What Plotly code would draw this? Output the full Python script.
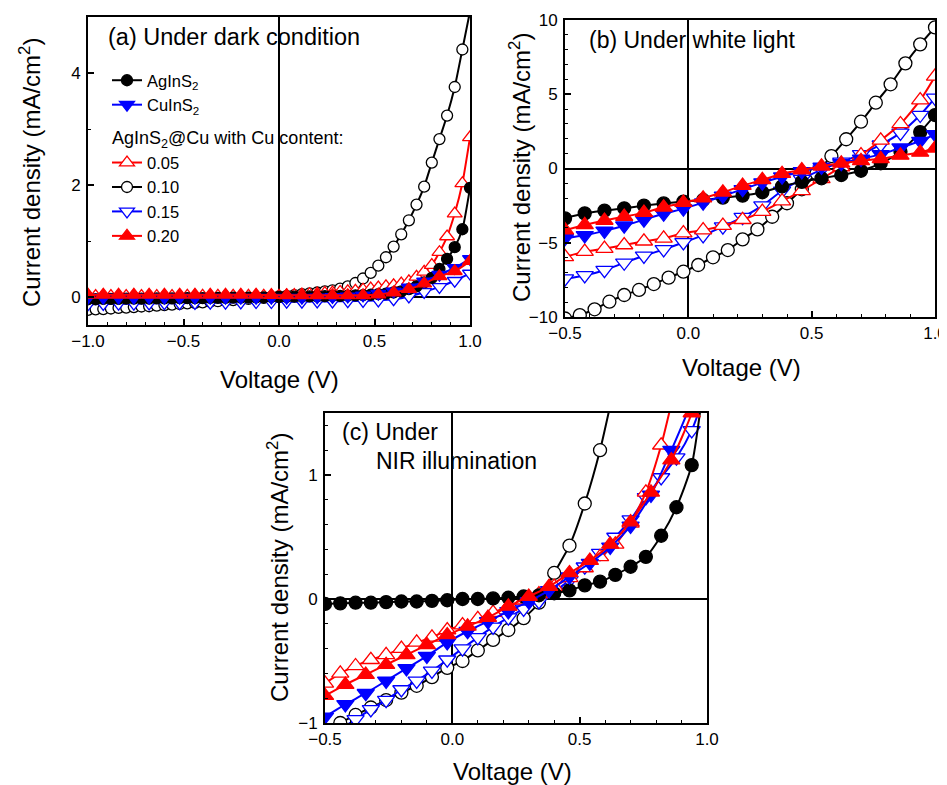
import plotly.graph_objects as go

# page body has an 8px margin; figure is sized so the page fills the 947x785 window
PAGE_W, PAGE_H = 947, 785
OFF = 8
W, H = PAGE_W - OFF, PAGE_H - OFF

# ---------------- data ----------------
# Panel (a): dark
Va_fine = [-1.00, -0.96, -0.92, -0.88, -0.84, -0.80, -0.76, -0.72, -0.68, -0.64, -0.60,
           -0.56, -0.52, -0.48, -0.44, -0.40, -0.36, -0.32, -0.28, -0.24, -0.20, -0.16,
           -0.12, -0.08, -0.04, 0.00, 0.04, 0.08, 0.12, 0.16, 0.20, 0.24, 0.28, 0.32,
           0.36, 0.40, 0.44, 0.48, 0.52, 0.56, 0.60, 0.64, 0.68, 0.72, 0.76, 0.80, 0.84,
           0.88, 0.92, 0.96, 1.00]
Va_coarse = [-1.00, -0.92, -0.84, -0.76, -0.68, -0.60, -0.52, -0.44, -0.36, -0.28, -0.20,
             -0.12, -0.04, 0.04, 0.12, 0.20, 0.28, 0.36, 0.44, 0.52, 0.60, 0.68, 0.76,
             0.84, 0.92, 1.00]

a_AgInS2 = [-0.04, -0.04, -0.035, -0.035, -0.035, -0.03, -0.03, -0.03, -0.03, -0.025, -0.025,
            -0.025, -0.02, -0.02, -0.02, -0.02, -0.015, -0.015, -0.015, -0.01, -0.01, -0.01,
            -0.005, -0.005, 0.0, 0.0, 0.0, 0.005, 0.005, 0.01, 0.01, 0.015, 0.02, 0.02,
            0.025, 0.03, 0.035, 0.04, 0.05, 0.06, 0.08, 0.10, 0.14, 0.19, 0.26, 0.34, 0.50,
            0.68, 0.89, 1.21, 1.95]
a_c005 = [0.015, 0.015, 0.015, 0.015, 0.015, 0.015, 0.015, 0.015, 0.015, 0.015, 0.015,
          0.015, 0.015, 0.02, 0.02, 0.02, 0.02, 0.02, 0.02, 0.02, 0.02, 0.02,
          0.02, 0.02, 0.02, 0.02, 0.03, 0.035, 0.045, 0.05, 0.06, 0.07, 0.08, 0.09,
          0.10, 0.11, 0.13, 0.15, 0.17, 0.19, 0.21, 0.24, 0.28, 0.36, 0.45, 0.57, 0.80,
          1.08, 1.49, 2.03, 2.85]
a_c010 = [-0.23, -0.22, -0.215, -0.205, -0.195, -0.19, -0.18, -0.17, -0.165, -0.155, -0.145,
          -0.135, -0.125, -0.115, -0.105, -0.095, -0.085, -0.075, -0.065, -0.055, -0.045, -0.035,
          -0.025, -0.015, -0.005, 0.01, 0.02, 0.035, 0.05, 0.065, 0.08, 0.10, 0.12, 0.15,
          0.19, 0.25, 0.33, 0.43, 0.56, 0.71, 0.90, 1.12, 1.37, 1.65, 1.97, 2.40, 2.82,
          3.24, 3.75, 4.42, 5.10]
a_CuInS2 = [-0.01, -0.01, -0.01, -0.01, -0.01, -0.01, -0.01, -0.01, -0.01, -0.01, -0.01,
            -0.01, -0.01, -0.01, -0.01, -0.005, 0.0, 0.01, 0.03, 0.06, 0.10, 0.17, 0.28,
            0.40, 0.52, 0.68]
a_c015 = [-0.13, -0.125, -0.12, -0.12, -0.115, -0.11, -0.11, -0.105, -0.10, -0.10, -0.095,
          -0.09, -0.09, -0.085, -0.085, -0.08, -0.08, -0.075, -0.07, -0.06, -0.04, 0.01, 0.09,
          0.18, 0.29, 0.42]
a_c020 = [0.04, 0.04, 0.04, 0.04, 0.04, 0.04, 0.04, 0.04, 0.04, 0.04, 0.04,
          0.04, 0.035, 0.03, 0.03, 0.03, 0.03, 0.03, 0.03, 0.045, 0.08, 0.14, 0.24,
          0.37, 0.46, 0.64]

# Panels (b) and (c): voltage grids
V6 = [-0.50, -0.44, -0.38, -0.32, -0.26, -0.20, -0.14, -0.08, -0.02, 0.04, 0.10, 0.16, 0.22,
      0.28, 0.34, 0.40, 0.46, 0.52, 0.58, 0.64, 0.70, 0.76, 0.82, 0.88, 0.94, 1.00]
V8 = [-0.50, -0.42, -0.34, -0.26, -0.18, -0.10, -0.02, 0.06, 0.14, 0.22, 0.30, 0.38, 0.46,
      0.54, 0.62, 0.70, 0.78, 0.86, 0.94, 1.00]

# Panel (b): white light
b_AgInS2 = [-3.36, -3.02, -2.84, -2.68, -2.50, -2.35, -2.23, -2.12, -1.96, -1.83, -1.60, -1.20,
            -0.90, -0.66, -0.44, -0.15, 0.35, 1.13, 2.45, 3.60]
b_CuInS2 = [-4.70, -4.50, -4.20, -3.85, -3.45, -3.05, -2.70, -2.30, -1.85, -1.40, -0.95, -0.55,
            -0.20, 0.10, 0.35, 0.65, 0.95, 1.40, 1.85, 2.30]
b_c005 = [-5.95, -5.60, -5.40, -5.15, -4.90, -4.70, -4.35, -4.15, -3.85, -3.45, -2.90, -2.20,
          -1.50, -0.70, 0.10, 0.90, 1.90, 3.00, 4.60, 6.20]
b_c010 = [-10.1, -9.87, -9.48, -8.97, -8.52, -8.18, -7.78, -7.35, -6.95, -6.50, -5.98, -5.49,
          -4.77, -4.10, -3.25, -2.34, -1.40, -0.32, 0.84, 1.97, 3.15, 4.43, 5.67, 7.08, 8.36, 9.50]
b_c015 = [-7.42, -7.20, -6.85, -6.35, -5.88, -5.45, -4.98, -4.50, -3.92, -3.28, -2.50, -1.50,
          -0.72, -0.08, 0.45, 0.95, 1.60, 2.40, 3.60, 4.75]
b_c020 = [-4.15, -3.80, -3.50, -3.24, -2.97, -2.61, -2.30, -2.00, -1.60, -1.15, -0.77, -0.35,
          -0.10, 0.15, 0.35, 0.52, 0.65, 0.88, 1.08, 1.36]

# Panel (c): NIR illumination
c_AgInS2 = [-0.04, -0.035, -0.03, -0.03, -0.025, -0.02, -0.02, -0.015, -0.01, 0.0, 0.0, 0.005,
            0.01, 0.02, 0.03, 0.046, 0.07, 0.11, 0.14, 0.195, 0.26, 0.34, 0.51, 0.74, 1.08, 1.95]
c_CuInS2 = [-0.95, -0.85, -0.76, -0.66, -0.56, -0.46, -0.35, -0.26, -0.18, -0.10, -0.02, 0.07,
            0.18, 0.29, 0.42, 0.59, 0.84, 1.20, 1.60, 2.20]
c_c005 = [-0.68, -0.60, -0.54, -0.49, -0.45, -0.40, -0.35, -0.31, -0.25, -0.21, -0.16, -0.11,
          -0.06, -0.01, 0.04, 0.10, 0.17, 0.25, 0.34, 0.44, 0.61, 0.86, 1.24, 1.75]
c_c010 = [-1.06, -1.00, -0.935, -0.875, -0.815, -0.755, -0.70, -0.63, -0.555, -0.50, -0.415,
          -0.33, -0.25, -0.155, -0.03, 0.21, 0.43, 0.77, 1.20, 1.75]
c_c015 = [-1.12, -1.05, -0.97, -0.89, -0.815, -0.73, -0.66, -0.58, -0.49, -0.40, -0.31, -0.225,
          -0.15, -0.08, -0.02, 0.06, 0.15, 0.26, 0.37, 0.50, 0.64, 0.82, 0.98, 1.14, 1.36, 1.70]
c_c020 = [-0.78, -0.69, -0.61, -0.53, -0.45, -0.37, -0.29, -0.22, -0.15, -0.06, 0.02, 0.10,
          0.21, 0.31, 0.44, 0.62, 0.86, 1.12, 1.50, 2.00]

names = {
    "AgInS2": "AgInS<sub>2</sub>",
    "CuInS2": "CuInS<sub>2</sub>",
    "c005": "0.05",
    "c010": "0.10",
    "c015": "0.15",
    "c020": "0.20",
}

# ---------------- styles ----------------
BLUE = "#0000ff"
RED = "#ff0000"
styles = {
    "AgInS2": dict(color="black", symbol="circle", fill="black", circ=True),
    "CuInS2": dict(color=BLUE, symbol="triangle-down", fill=BLUE, circ=False),
    "c005": dict(color=RED, symbol="triangle-up", fill="white", circ=False),
    "c010": dict(color="black", symbol="circle", fill="white", circ=True),
    "c015": dict(color=BLUE, symbol="triangle-down", fill="white", circ=False),
    "c020": dict(color=RED, symbol="triangle-up", fill=RED, circ=False),
}
marker_size = {"a": (11, 13), "b": (13, 15), "c": (13, 15)}  # (circle, triangle)
legend_rank = {"AgInS2": 1, "CuInS2": 2, "c005": 3, "c010": 4, "c015": 5, "c020": 6}
draw_order = ["c010", "c015", "c005", "AgInS2", "CuInS2", "c020"]

panel_data = {
    "a": {
        "AgInS2": (Va_fine, a_AgInS2), "c005": (Va_fine, a_c005), "c010": (Va_fine, a_c010),
        "CuInS2": (Va_coarse, a_CuInS2), "c015": (Va_coarse, a_c015), "c020": (Va_coarse, a_c020),
    },
    "b": {
        "AgInS2": (V8, b_AgInS2), "CuInS2": (V8, b_CuInS2), "c005": (V8, b_c005),
        "c010": (V6, b_c010), "c015": (V8, b_c015), "c020": (V8, b_c020),
    },
    "c": {
        "AgInS2": (V6, c_AgInS2), "CuInS2": (V8, c_CuInS2), "c005": (V6[:len(c_c005)], c_c005),
        "c010": (V6[:len(c_c010)], c_c010), "c015": (V6, c_c015), "c020": (V8, c_c020),
    },
}
axes_ref = {"a": ("x", "y"), "b": ("x2", "y2"), "c": ("x3", "y3")}

FONT = "Arial, Liberation Sans, sans-serif"

fig = go.Figure()
for p in ["a", "b", "c"]:
    xr, yr = axes_ref[p]
    for key in draw_order:
        xs, ys = panel_data[p][key]
        st = styles[key]
        size = marker_size[p][0] if st["circ"] else marker_size[p][1]
        show = (p == "a")
        grp = "g1" if key in ("AgInS2", "CuInS2") else "g2"
        kw = {}
        if show and grp == "g2":
            kw["legendgrouptitle"] = dict(text="AgInS<sub>2</sub>@Cu with Cu content:",
                                          font=dict(size=18, family=FONT, color="black"))
        fig.add_trace(go.Scatter(
            x=xs, y=ys, xaxis=xr, yaxis=yr, mode="lines+markers",
            name=names[key], showlegend=show, legendgroup=grp if show else None,
            legendrank=legend_rank[key],
            line=dict(color=st["color"], width=2, shape="spline", smoothing=0.6),
            marker=dict(symbol=st["symbol"], size=size, color=st["fill"],
                        line=dict(color=st["color"], width=1.3)),
            **kw,
        ))

def px_x(x):
    return (x - OFF) / W

def px_y(y):
    return 1 - (y - OFF) / H

def axis_common():
    return dict(
        showline=True, linewidth=2, linecolor="black", mirror=True,
        ticks="inside", ticklen=6, tickwidth=1.5, tickcolor="black",
        showgrid=False, zeroline=True, zerolinecolor="black", zerolinewidth=1.6,
        automargin=False,
        tickfont=dict(size=17, family=FONT, color="black"),
    )

dom = {
    "a": ((88, 470), (17, 325)),
    "b": ((565, 935), (20, 317)),
    "c": ((325, 707), (413, 723)),
}

layout_axes = {}
cfg = {
    "a": dict(xr=[-1, 1], xd=0.5, xm=0.1, yr=[-0.5, 5], yd=2, ym=1),
    "b": dict(xr=[-0.5, 1], xd=0.5, xm=0.1, yr=[-10, 10], yd=5, ym=1),
    "c": dict(xr=[-0.5, 1], xd=0.5, xm=0.1, yr=[-1, 1.5], yd=1, ym=0.2),
}
suffix = {"a": "", "b": "2", "c": "3"}
for p in ["a", "b", "c"]:
    (x0, x1), (y0, y1) = dom[p]
    c = cfg[p]
    s = suffix[p]
    xa = axis_common()
    xa.update(domain=[px_x(x0), px_x(x1)], range=c["xr"], dtick=c["xd"], tick0=0,
              tickformat=".1f", anchor="y" + s, ticklabelstandoff=0,
              minor=dict(dtick=c["xm"], tick0=0, ticks="inside", ticklen=3, tickcolor="black",
                         tickwidth=1.2, showgrid=False))
    ya = axis_common()
    ya.update(domain=[px_y(y1), px_y(y0)], range=c["yr"], dtick=c["yd"], tick0=0,
              anchor="x" + s, ticklabelstandoff=2,
              minor=dict(dtick=c["ym"], tick0=0, ticks="inside", ticklen=3, tickcolor="black",
                         tickwidth=1.2, showgrid=False))
    layout_axes["xaxis" + s] = xa
    layout_axes["yaxis" + s] = ya

annotations = []
def ann(text, x, y, size=20, xanchor="left", angle=0):
    annotations.append(dict(text=text, x=px_x(x), y=px_y(y), xref="paper", yref="paper",
                            xanchor=xanchor, yanchor="middle", showarrow=False, textangle=angle,
                            font=dict(size=size, family=FONT, color="black")))

ann("(a) Under dark condition", 106, 37, 23.5)
ann("(b) Under white light", 587, 40, 23)
ann("(c) Under", 340, 432, 23)
ann("NIR illumination", 374, 461, 23)
ytitle = "Current density (mA/cm<sup>2</sup>)"
ann("Voltage (V)", 279, 379, 24, "center")
ann("Voltage (V)", 741, 367, 24, "center")
ann("Voltage (V)", 512, 771, 24, "center")
ann(ytitle, 30, 173, 24, "center", -90)
ann(ytitle, 520, 168, 24, "center", -90)
ann(ytitle, 278, 568, 24, "center", -90)

fig.update_layout(
    width=W, height=H, margin=dict(l=0, r=0, t=0, b=0, autoexpand=False),
    paper_bgcolor="white", plot_bgcolor="white",
    font=dict(family=FONT, color="black"),
    showlegend=True,
    legend=dict(x=px_x(107), y=px_y(63), xanchor="left", yanchor="top",
                bgcolor="rgba(0,0,0,0)", traceorder="grouped", tracegroupgap=7,
                font=dict(size=16.5, family=FONT, color="black"), itemwidth=30),
    annotations=annotations,
    **layout_axes,
)

fig.write_html("out.html")
